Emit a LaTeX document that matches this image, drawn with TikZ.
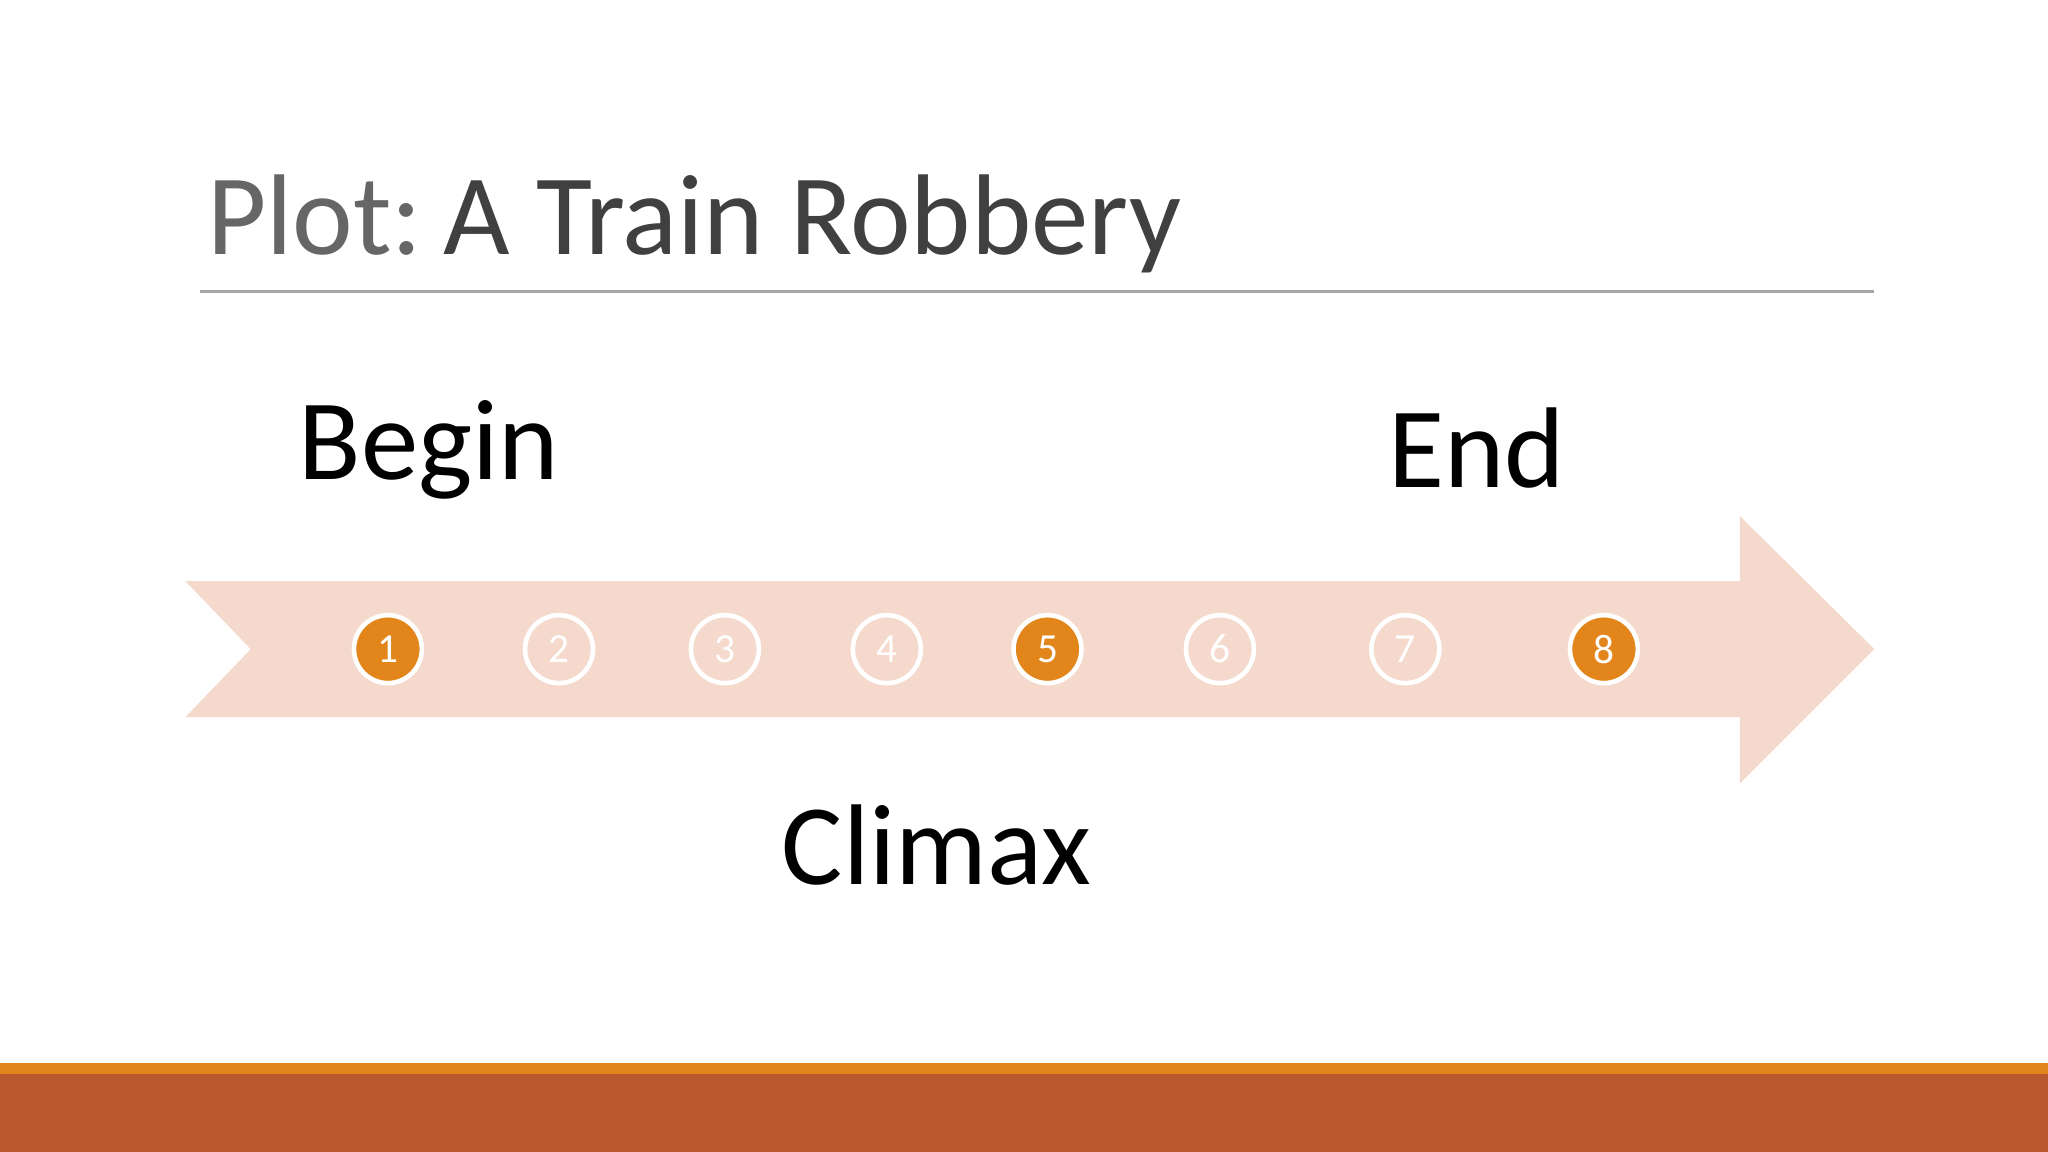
\documentclass[tikz,border=0pt]{standalone}
\usepackage{fontspec}
\setmainfont{Carlito}
\begin{document}
\begin{tikzpicture}[x=0.01cm,y=-0.01cm,
  big/.style={font=\fontsize{25}{30}\selectfont,inner sep=0pt,anchor=base west},
  dot/.style={circle,minimum size=0.52cm,inner sep=0pt,draw=white,line width=1pt,text=white,font=\fontsize{9}{10}\selectfont},
  hot/.style={dot,fill=orangeA}]
\definecolor{orangeA}{HTML}{E2861C}
\definecolor{rust}{HTML}{BA582E}
\definecolor{peach}{HTML}{F4D9CC}
\fill[white] (0,0) rectangle (1568,882);
\useasboundingbox (0,0) rectangle (1568,882);
\node[big,text=black!60] (plot) at (158,195) {Plot:};
\node[big,text=black!75,anchor=base west] (ttl) at (plot.base east) {\,A Train Robbery};
\draw[black!35,line width=0.6pt] (153,223) -- (1435,223);
\fill[peach] (142,445) -- (1332,445) -- (1332,395) -- (1435,497) -- (1332,600) -- (1332,549) -- (142,549) -- (192,497) -- cycle;
\node[big] (begin) at (228,367) {Begin};
\node[big] (end) at (1062,373) {End};
\node[big] (climax) at (598,677) {Climax};
\node[hot] (n1) at (297,497) {1};
\node[dot] (n2) at (428,497) {2};
\node[dot] (n3) at (555,497) {3};
\node[dot] (n4) at (679,497) {4};
\node[hot] (n5) at (802,497) {5};
\node[dot] (n6) at (934,497) {6};
\node[dot] (n7) at (1076,497) {7};
\node[hot] (n8) at (1228,497) {8};
\fill[orangeA] (0,814) rectangle (1568,822);
\fill[rust] (0,822) rectangle (1568,882);
\end{tikzpicture}
\end{document}
